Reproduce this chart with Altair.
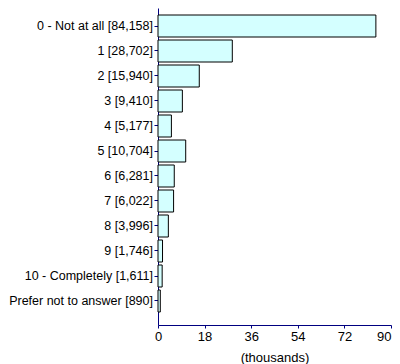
import altair as alt
import pandas as pd

categories = ["0 - Not at all [84,158]", "1 [28,702]", "2 [15,940]", "3 [9,410]",
              "4 [5,177]", "5 [10,704]", "6 [6,281]", "7 [6,022]", "8 [3,996]",
              "9 [1,746]", "10 - Completely [1,611]", "Prefer not to answer [890]"]
values = [84.158, 28.702, 15.940, 9.410, 5.177, 10.704, 6.281, 6.022, 3.996,
          1.746, 1.611, 0.890]
x_ticks = [0, 18, 36, 54, 72, 90]

df = pd.DataFrame({"cat": categories, "val": values})
FONT = "Liberation Sans"
NAVY = "#000080"

chart = alt.Chart(df).mark_bar(
    fill="#d4ffff", stroke="black", strokeWidth=1
).encode(
    y=alt.Y("cat:N", sort=categories, title=None,
            scale=alt.Scale(paddingInner=0.12, paddingOuter=0.4, align=0.35),
            axis=alt.Axis(labelFont=FONT, labelFontSize=12.5, labelColor="black",
                          labelPadding=1.5, tickSize=4, tickColor=NAVY,
                          domainColor=NAVY, labelLimit=300)),
    x=alt.X("val:Q", title="(thousands)",
            scale=alt.Scale(domain=[0, 90], nice=False),
            axis=alt.Axis(values=x_ticks, grid=False, labelFont=FONT, labelFontSize=13,
                          labelColor="black", tickSize=3, tickColor=NAVY,
                          domainColor=NAVY, labelPadding=2,
                          labelAlign=alt.condition("datum.value == 90",
                                                   alt.value("right"), alt.value("center")),
                          titleFont=FONT, titleFontSize=13, titleFontWeight="normal",
                          titleColor="black", titlePadding=8, labelFlush=False))
).properties(
    width=233, height=317,
    autosize=alt.AutoSizeParams(type="none"),
    padding={"left": 150, "top": 0, "right": 1, "bottom": 39}
).configure_view(stroke=None)

chart.save("out.html", embed_options={"renderer": "svg", "actions": False})
